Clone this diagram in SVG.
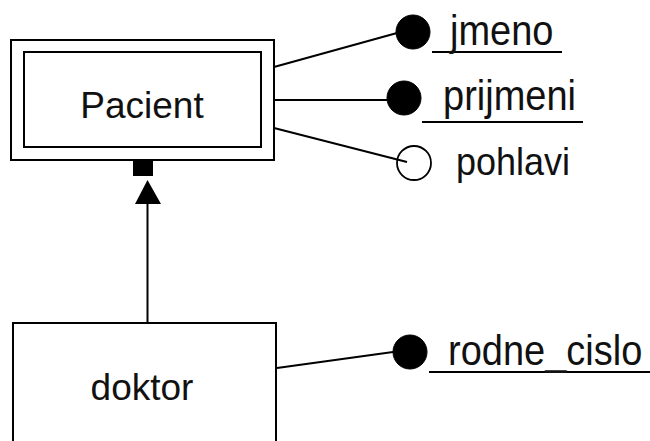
<svg xmlns="http://www.w3.org/2000/svg" width="650" height="441" viewBox="0 0 650 441">
  <style>
    .box { fill: #fff; stroke: #000; stroke-width: 2; }
    .edge { fill: none; stroke: #000; stroke-width: 2; }
    .key { fill: #000; stroke: #000; stroke-width: 1; }
    .opt { fill: none; stroke: #000; stroke-width: 1.8; }
    .ul { stroke: #000; stroke-width: 2; }
    .lbl { font-family: "Liberation Sans", Arial, sans-serif; fill: #111; }
    .ent { font-size: 37px; text-anchor: middle; }
    .att { font-size: 38px; }
  </style>
  <rect width="650" height="441" fill="#fff"/>

  <!-- connectors -->
  <g id="connectors">
    <line class="edge" x1="274" y1="67" x2="397" y2="33"/>
    <line class="edge" x1="274" y1="100" x2="388" y2="100"/>
    <line class="edge" x1="274" y1="128" x2="407" y2="162"/>
    <line class="edge" x1="277" y1="368" x2="393" y2="352"/>
    <!-- ISA link doktor -> Pacient -->
    <line class="edge" x1="147.5" y1="203" x2="147.5" y2="323"/>
    <polygon points="147.5,180 135,204 161,204" fill="#000"/>
    <rect x="133" y="160" width="20" height="16" fill="#000"/>
  </g>

  <!-- entity Pacient (double border) -->
  <g id="pacient">
    <rect class="box" x="11" y="40" width="263" height="120"/>
    <rect class="box" x="24" y="52" width="237" height="95"/>
    <text class="lbl ent" x="142" y="118">Pacient</text>
  </g>

  <!-- entity doktor -->
  <g id="doktor">
    <rect class="box" x="13" y="323" width="263" height="130"/>
    <text class="lbl ent" x="142" y="400">doktor</text>
  </g>

  <!-- attributes (labels slightly stretched vertically) -->
  <g id="attr-jmeno">
    <circle class="key" cx="413" cy="32" r="17"/>
    <line class="ul" x1="432" y1="52" x2="562" y2="52"/>
    <text class="lbl att" transform="translate(450,45) scale(1,1.1)">jmeno</text>
  </g>
  <g id="attr-prijmeni">
    <circle class="key" cx="404" cy="98" r="17"/>
    <line class="ul" x1="422" y1="122" x2="583" y2="122"/>
    <text class="lbl att" transform="translate(443,110) scale(1,1.1)">prijmeni</text>
  </g>
  <g id="attr-pohlavi">
    <circle class="opt" cx="414" cy="163" r="17"/>
    <text class="lbl att" transform="translate(456,175) scale(1,1.1)" style="font-size:36px">pohlavi</text>
  </g>
  <g id="attr-rodne_cislo">
    <circle class="key" cx="410" cy="352" r="17"/>
    <line class="ul" x1="429" y1="372" x2="650" y2="372"/>
    <text class="lbl att" transform="translate(448,365) scale(1,1.1)">rodne_cislo</text>
  </g>
</svg>
